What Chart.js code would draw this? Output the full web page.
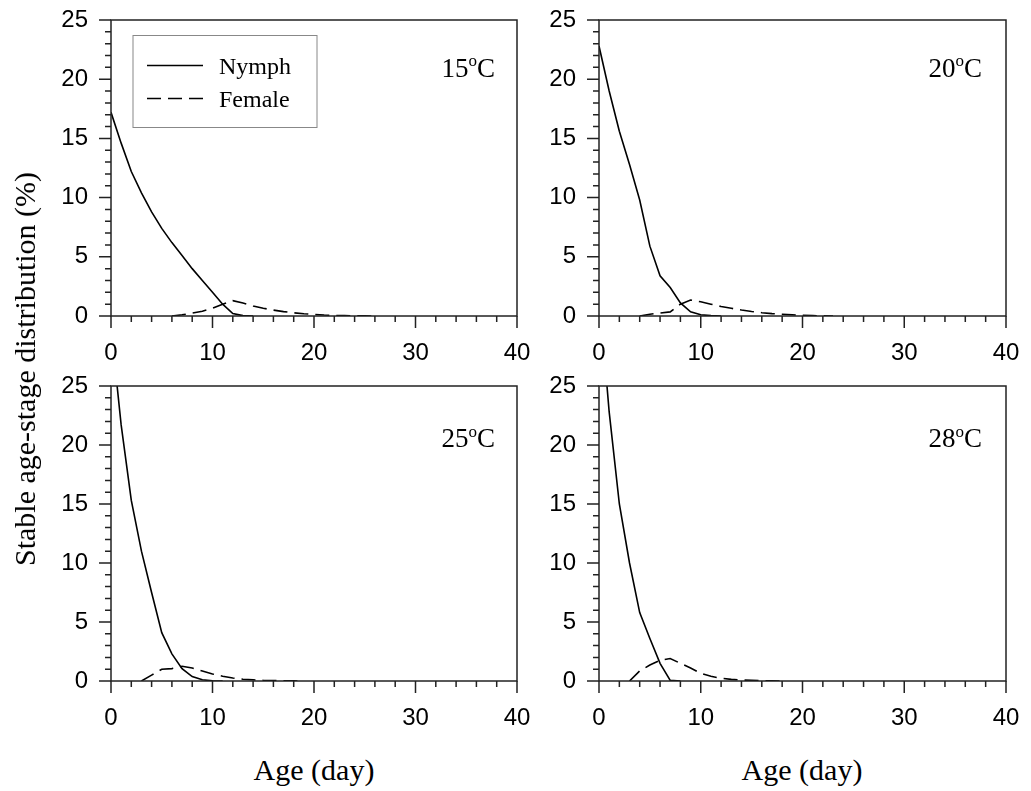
<!DOCTYPE html>
<html>
<head>
<meta charset="utf-8">
<script src="https://cdn.jsdelivr.net/npm/chart.js@4.4.0/dist/chart.umd.min.js"></script>
<style>
  body { margin: 0; background: #fff; }
  #wrap { position: relative; width: 1031px; height: 791px; overflow: hidden; }
  canvas { position: absolute; }
  .lab { position: absolute; font-family: "Liberation Serif", serif; font-size: 30px; color: #000; white-space: nowrap; transform: translate(-50%, -50%); }
</style>
</head>
<body>
<div id="wrap">
  <canvas id="c15"></canvas>
  <canvas id="c20"></canvas>
  <canvas id="c25"></canvas>
  <canvas id="c28"></canvas>
  <div class="lab" style="left:25px; top:369px; transform: translate(-50%, -50%) rotate(-90deg);">Stable age-stage distribution (%)</div>
  <div class="lab" style="left:314px; top:770px;">Age (day)</div>
  <div class="lab" style="left:802px; top:770px;">Age (day)</div>
</div>
<script>
// age in days
const days = [0, 1, 2, 3, 4, 5, 6, 7, 8, 9, 10, 11, 12, 13, 14, 15, 16, 17, 18, 19, 20, 21, 22, 23, 24, 25, 26];

// stable age-stage distribution (%)
const nymph15  = [17.2, 14.6, 12.2, 10.4, 8.8, 7.4, 6.2, 5.1, 4.0, 3.0, 2.0, 1.0, 0.2, 0.03, 0];
const female15 = [null, null, null, null, null, null, 0, 0.1, 0.25, 0.4, 0.65, 1.0, 1.3, 1.1, 0.85, 0.65, 0.5, 0.37, 0.27, 0.19, 0.13, 0.08, 0.05, 0.03, 0.02, 0.01, 0];
const nymph20  = [22.8, 19.0, 15.6, 12.8, 9.8, 5.9, 3.4, 2.4, 1.1, 0.35, 0.1, 0.03, 0];
const female20 = [null, null, null, null, 0, 0.15, 0.25, 0.35, 1.0, 1.35, 1.2, 1.0, 0.8, 0.65, 0.5, 0.38, 0.28, 0.2, 0.15, 0.1, 0.06, 0.03, 0.01, 0];
const nymph25  = [30, 21.7, 15.3, 11.0, 7.5, 4.1, 2.3, 1.05, 0.37, 0.1, 0.02, 0];
const female25 = [null, null, null, 0, 0.5, 1.0, 1.05, 1.25, 1.1, 0.85, 0.6, 0.4, 0.25, 0.15, 0.1, 0.06, 0.04, 0.02, 0.01, 0];
const nymph28  = [33, 22.8, 15.0, 10.0, 5.8, 3.6, 1.5, 0.05, 0];
const female28 = [null, null, null, 0, 0.85, 1.35, 1.75, 1.9, 1.5, 1.1, 0.65, 0.4, 0.23, 0.14, 0.08, 0.05, 0.03, 0.01, 0];

const seriesNames = ['Nymph', 'Female'];

function toXY(vals) {
  return vals.map((v, i) => ({ x: days[i], y: v }));
}

// frame, minor/major ticks, temperature label and legend
const frame = {
  id: 'frame',
  afterDraw(chart, args, opts) {
    const { ctx, chartArea: a, scales: { x, y } } = chart;
    ctx.save();
    ctx.strokeStyle = '#222';
    ctx.lineWidth = 1.5;
    ctx.strokeRect(a.left, a.top, a.right - a.left, a.bottom - a.top);
    ctx.beginPath();
    for (let v = 0; v <= 40; v += 2) {
      const px = x.getPixelForValue(v);
      ctx.moveTo(px, a.bottom);
      ctx.lineTo(px, a.bottom + (v % 10 === 0 ? 12 : 6));
    }
    for (let v = 0; v <= 25; v++) {
      const py = y.getPixelForValue(v);
      ctx.moveTo(a.left, py);
      ctx.lineTo(a.left - (v % 5 === 0 ? 12 : 6), py);
    }
    ctx.stroke();

    // temperature
    ctx.fillStyle = '#000';
    ctx.textBaseline = 'alphabetic';
    const big = '27px "Liberation Serif"', small = '17px "Liberation Serif"';
    const xe = a.right - opts.tempRight, yb = a.top + opts.tempTop;
    ctx.font = big;
    const wC = ctx.measureText('C').width;
    const wT = ctx.measureText(opts.temp).width;
    ctx.font = small;
    const wo = ctx.measureText('o').width;
    ctx.fillText('o', xe - wC - wo, yb - 10.5);
    ctx.font = big;
    ctx.fillText('C', xe - wC, yb);
    ctx.fillText(opts.temp, xe - wC - wo - wT, yb);

    if (opts.legend) {
      ctx.strokeStyle = '#888';
      ctx.lineWidth = 1;
      ctx.strokeRect(a.left + 22, a.top + 15.5, 184, 92);
      ctx.font = '24px "Liberation Serif"';
      const rows = [45.5, 78.5];
      chart.data.datasets.forEach((ds, i) => {
        ctx.strokeStyle = '#000';
        ctx.lineWidth = 1.5;
        ctx.setLineDash(ds.borderDash || []);
        ctx.beginPath();
        ctx.moveTo(a.left + 36, a.top + rows[i]);
        ctx.lineTo(a.left + 92, a.top + rows[i]);
        ctx.stroke();
        ctx.setLineDash([]);
        ctx.fillText(ds.label, a.left + 108, a.top + rows[i] + 8.5);
      });
    }
    ctx.restore();
  }
};

function makePanel(id, box, nymph, female, temp, tempTop, tempRight, legend) {
  const cv = document.getElementById(id);
  // padding must exceed the tick label overflow chart.js reserves (label half size + tick padding)
  const padT = 40, padR = 40, yW = 70, xH = 70;
  cv.width = yW + (box.r - box.l) + padR;
  cv.height = padT + (box.b - box.t) + xH;
  cv.style.left = (box.l - yW) + 'px';
  cv.style.top = (box.t - padT) + 'px';
  const tickFont = { family: 'Liberation Sans', size: 24 };
  return new Chart(cv, {
    type: 'line',
    data: {
      datasets: [
        { label: seriesNames[0], data: toXY(nymph), borderColor: '#000', borderWidth: 1.6, pointRadius: 0, tension: 0 },
        { label: seriesNames[1], data: toXY(female), borderColor: '#000', borderWidth: 1.6, borderDash: [14, 7], pointRadius: 0, tension: 0 }
      ]
    },
    options: {
      responsive: false,
      animation: false,
      layout: { padding: { top: padT, right: padR, left: 0, bottom: 0 } },
      plugins: {
        legend: { display: false },
        tooltip: { enabled: false },
        frame: { temp: temp, tempTop: tempTop, tempRight: tempRight, legend: legend }
      },
      scales: {
        x: {
          type: 'linear', min: 0, max: 40,
          afterFit: s => { s.height = xH; },
          grid: { display: false, drawTicks: false },
          border: { display: false },
          ticks: { stepSize: 10, padding: 23, color: '#000', font: tickFont, maxRotation: 0 }
        },
        y: {
          min: 0, max: 25,
          afterFit: s => { s.width = yW; },
          grid: { display: false, drawTicks: false },
          border: { display: false },
          ticks: { stepSize: 5, padding: 23, color: '#000', font: tickFont }
        }
      }
    },
    plugins: [frame]
  });
}

makePanel('c15', { l: 111, r: 517, t: 19.5, b: 316 }, nymph15, female15, '15', 56.5, 22, true);
makePanel('c20', { l: 599, r: 1006, t: 19.5, b: 316 }, nymph20, female20, '20', 56.5, 24, false);
makePanel('c25', { l: 111, r: 517, t: 386, b: 681 }, nymph25, female25, '25', 61, 22, false);
makePanel('c28', { l: 599, r: 1006, t: 386, b: 681 }, nymph28, female28, '28', 61, 24, false);
</script>
</body>
</html>
